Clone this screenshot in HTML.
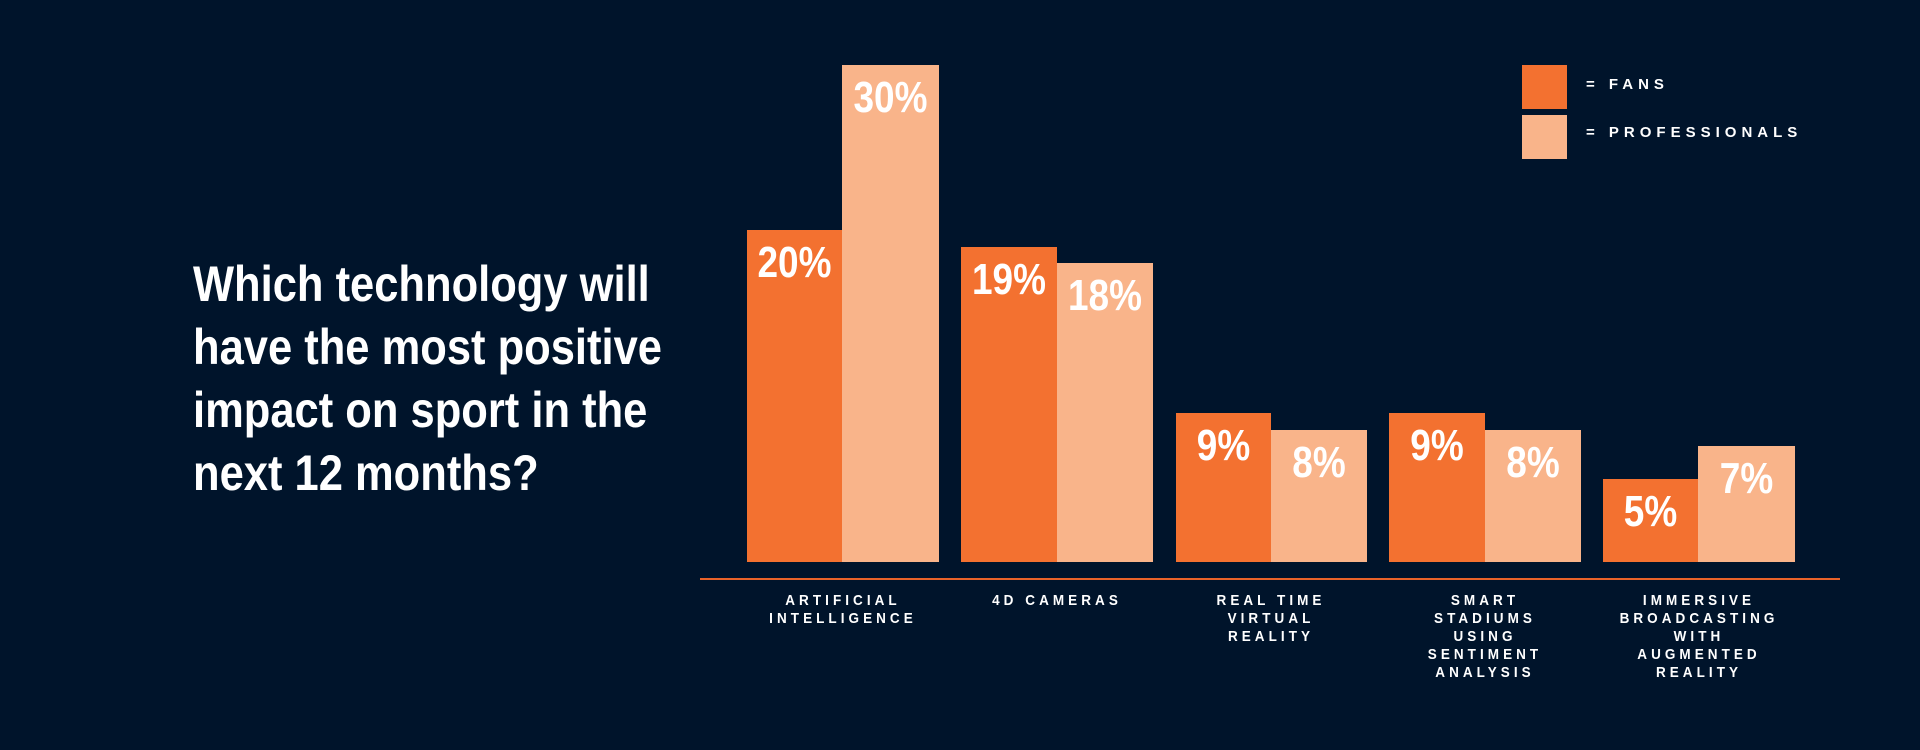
<!DOCTYPE html>
<html><head><meta charset="utf-8"><style>
html,body{margin:0;padding:0}
body{width:1920px;height:750px;background:#00142b;position:relative;overflow:hidden;font-family:"Liberation Sans",sans-serif}
.t{position:absolute;left:193px;color:#fff;font-weight:bold;font-size:50px;line-height:63px;top:253px;white-space:nowrap;transform:scaleX(0.87);transform-origin:left top}
.b{position:absolute;bottom:188px}
.f{background:#f37130}
.p{background:#f9b48a}
.v{position:absolute;left:-20px;right:-20px;text-align:center;color:#fff;font-weight:bold;font-size:44px;top:8px;transform:scaleX(0.84)}
.ax{position:absolute;left:700px;width:1140px;top:578px;height:2px;background:#e8632a}
.l{position:absolute;top:592px;width:240px;text-align:center;color:#fff;font-size:15px;line-height:18px;letter-spacing:4.5px;font-weight:bold;transform:scaleX(0.9)}
.lg{position:absolute;left:1522px;width:45px;height:44px}
.lt{position:absolute;left:1586px;color:#fff;font-size:15px;letter-spacing:5px;font-weight:bold}
</style></head><body>
<div class="t">Which technology will<br>have the most positive<br>impact on sport in the<br>next 12 months?</div>

<div class="b f" style="left:747px;width:95px;top:230px"><div class="v">20%</div></div>
<div class="b p" style="left:842px;width:97px;top:65px"><div class="v">30%</div></div>
<div class="b f" style="left:961px;width:96px;top:247px"><div class="v">19%</div></div>
<div class="b p" style="left:1057px;width:96px;top:263px"><div class="v">18%</div></div>
<div class="b f" style="left:1176px;width:95px;top:413px"><div class="v">9%</div></div>
<div class="b p" style="left:1271px;width:96px;top:430px"><div class="v">8%</div></div>
<div class="b f" style="left:1389px;width:96px;top:413px"><div class="v">9%</div></div>
<div class="b p" style="left:1485px;width:96px;top:430px"><div class="v">8%</div></div>
<div class="b f" style="left:1603px;width:95px;top:479px"><div class="v">5%</div></div>
<div class="b p" style="left:1698px;width:97px;top:446px"><div class="v">7%</div></div>

<div class="ax"></div>

<div class="l" style="left:723px">ARTIFICIAL<br>INTELLIGENCE</div>
<div class="l" style="left:937px">4D CAMERAS</div>
<div class="l" style="left:1151px">REAL TIME<br>VIRTUAL<br>REALITY</div>
<div class="l" style="left:1365px">SMART<br>STADIUMS<br>USING<br>SENTIMENT<br>ANALYSIS</div>
<div class="l" style="left:1579px">IMMERSIVE<br>BROADCASTING<br>WITH<br>AUGMENTED<br>REALITY</div>

<div class="lg f" style="top:65px"></div>
<div class="lg p" style="top:115px"></div>
<div class="lt" style="top:76px">= FANS</div>
<div class="lt" style="top:124px">= PROFESSIONALS</div>
</body></html>
